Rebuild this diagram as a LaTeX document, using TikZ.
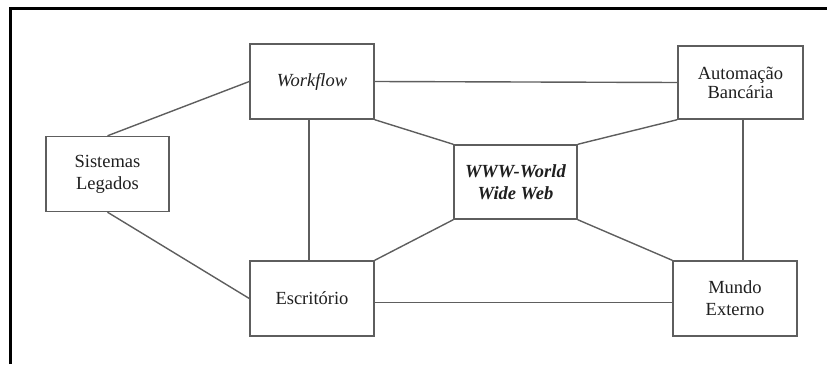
\documentclass[tikz,border=0pt]{standalone}
\usepackage{fontspec}
\setmainfont{Liberation Serif}
\begin{document}
\begin{tikzpicture}[x=1pt,y=-1pt,
  every node/.style={inner sep=0pt},
  block/.style={draw=boxgray, line width=1.4pt, fill=white, text=black!88,
    align=center, font=\fontsize{18.5}{22}\selectfont,
    minimum width=#1, minimum height=75pt},
  block/.default=124pt,
  link/.style={draw=boxgray, line width=1.4pt}]
\definecolor{boxgray}{HTML}{5E5E5E}
\useasboundingbox (0,0) rectangle (827,364);
% outer frame (top and left edges only)
\draw[line width=3pt, black] (10.5,364) -- (10.5,8.5) -- (827,8.5);

% blocks
\node[block] (wf)  at (312,81.5)  {\textit{Workflow}};
\node[block=123pt] (sis) at (107.5,174) {Sistemas\\Legados};
\node[block=125pt,minimum height=73pt] (aut) at (740.5,82.5) {Automação\\[-3pt]Bancária};
\node[block=123pt,minimum height=74pt] (www) at (515.5,182) {\textbf{\textit{WWW-World}}\\\textbf{\textit{Wide Web}}};
\node[block] (esc) at (312,298.5) {Escritório};
\node[block] (mun) at (735,298.5) {Mundo\\Externo};

% connections
\draw[link] (sis.north) -- (wf.west);
\draw[link] (sis.south) -- (esc.west);
\draw[link] (wf.east) -- (aut.west);
\draw[link] ([xshift=-3pt]wf.south) -- ([xshift=-3pt]esc.north);
\draw[link] (wf.south east) -- (www.north west);
\draw[link] (www.north east) -- (aut.south west);
\draw[link] (www.south west) -- (esc.north east);
\draw[link] (www.south east) -- (mun.north west);
\draw[link] ([xshift=2.5pt]aut.south) -- ([xshift=2.5pt]aut.south |- mun.north);
\draw[link] ([yshift=-4pt]esc.east) -- ([yshift=-4pt]esc.east -| mun.west);
\end{tikzpicture}
\end{document}
